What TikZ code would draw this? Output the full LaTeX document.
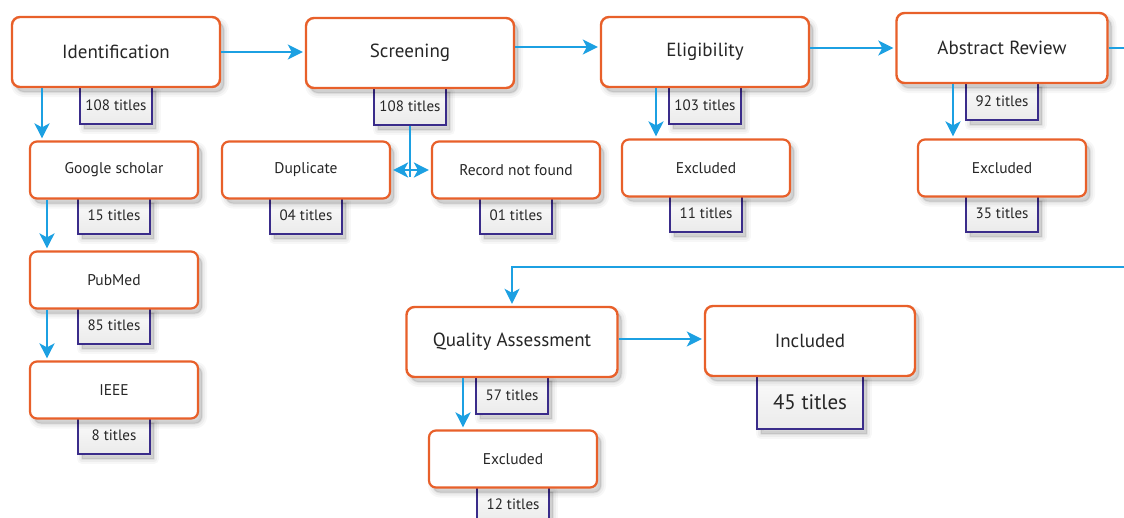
\documentclass[tikz,border=0pt]{standalone}
\usepackage{fontspec}
\setmainfont{PT Sans}
\usetikzlibrary{arrows.meta, positioning, shadows, backgrounds}
\definecolor{boxorange}{RGB}{232,96,42}
\definecolor{flowblue}{RGB}{28,160,226}
\definecolor{tallypurple}{RGB}{58,44,138}

\begin{document}
\begin{tikzpicture}[x=1pt, y=-1pt,
  soft shadow/.style={
    general shadow={shadow xshift=4pt, shadow yshift=-5pt, fill=black, draw=black, line width=10pt, line join=round, opacity=0.03},
    general shadow={shadow xshift=4pt, shadow yshift=-5pt, fill=black, draw=black, line width=6pt, line join=round, opacity=0.04},
    general shadow={shadow xshift=4pt, shadow yshift=-5pt, fill=black, draw=black, line width=2pt, line join=round, opacity=0.06}},
  stage/.style={draw=boxorange, line width=2.4pt, rounded corners=8pt, fill=white, text=black!85,
    minimum width=208pt, minimum height=70pt, font=\fontsize{19}{23}\selectfont, soft shadow},
  sub/.style={stage, rounded corners=7pt, line width=2.2pt, minimum width=168pt, minimum height=57pt,
    font=\fontsize{15.5}{19}\selectfont},
  tally/.style={draw=tallypurple, line width=2pt, top color=gray!3, bottom color=gray!16, text=black!85,
    minimum width=72pt, minimum height=38pt, inner sep=0pt, font=\fontsize{15}{18}\selectfont, soft shadow},
  flowline/.style={draw=flowblue, line width=2.2pt},
  flow/.style={flowline, shorten >=2pt, -{Stealth[length=15pt, width=15pt, inset=4pt]}},
]
\useasboundingbox (0,0) rectangle (1124,517);
\clip (0,0) rectangle (1124,517);

% main stages
\node[stage] (id)  at (116,52) {Identification};
\node[stage] (scr) at (410,53) {Screening};
\node[stage] (eli) at (705,52) {Eligibility};
\node[stage, minimum width=211pt] (abs) at (1002,48) {Abstract Review};
\node[stage, minimum width=211pt] (qa) at (512,342) {Quality Assessment};
\node[stage, minimum width=210pt] (inc) at (810,341) {Included};

% sources and exclusions
\node[sub] (gs)   at (114,170) {Google scholar};
\node[sub] (pm)   at (114,280) {PubMed};
\node[sub] (ieee) at (114,390) {IEEE};
\node[sub] (dup)  at (306,170) {Duplicate};
\node[sub] (rnf)  at (516,170) {Record not found};
\node[sub] (exe)  at (706,168) {Excluded};
\node[sub] (exa)  at (1002,168) {Excluded};
\node[sub] (exq)  at (513,459) {Excluded};

% counts
\begin{scope}[on background layer]
\node[tally, below=-3pt of id]  (nid)  {108 titles};
\node[tally, below=-3pt of scr] (nscr) {108 titles};
\node[tally, below=-3pt of eli] (neli) {103 titles};
\node[tally, below=-3pt of abs] (nabs) {92 titles};
\node[tally, below=-3pt of qa]  (nqa)  {57 titles};
\node[tally, below=-3pt of inc, minimum width=106pt, minimum height=54pt,
  font=\fontsize{21}{25}\selectfont] (ninc) {45 titles};
\node[tally, minimum height=36pt, below=-3pt of gs]   (ngs)   {15 titles};
\node[tally, minimum height=36pt, below=-3pt of pm]   (npm)   {85 titles};
\node[tally, minimum height=36pt, below=-3pt of ieee] (nieee) {8 titles};
\node[tally, minimum height=36pt, below=-3pt of dup]  (ndup)  {04 titles};
\node[tally, minimum height=36pt, below=-3pt of rnf]  (nrnf)  {01 titles};
\node[tally, minimum height=36pt, below=-3pt of exe]  (nexe)  {11 titles};
\node[tally, minimum height=36pt, below=-3pt of exa]  (nexa)  {35 titles};
\node[tally, minimum height=36pt, below=-3pt of exq]  (nexq)  {12 titles};
\end{scope}

% connectors
\coordinate (loop) at (512,267);
\draw[flow] (id.east) -- (id.east -| scr.west);
\draw[flow] ([yshift=6pt]scr.east) -- ([yshift=6pt]scr.east -| eli.west);
\draw[flow] (eli.east |- abs.west) -- (abs.west);
\draw[flow] (abs.east) -- ++(40,0) |- (loop) -- (qa.north);
\draw[flow] ([yshift=3pt]qa.east) -- ([yshift=3pt]qa.east -| inc.west);

\draw[flow] (id.south -| 42,0) -- (gs.north -| 42,0);
\draw[flow] (gs.south -| 47,0) -- (pm.north -| 47,0);
\draw[flow] (pm.south -| 47,0) -- (ieee.north -| 47,0);

\draw[flowline] (nscr.south) -- (nscr.south |- 0,177);
\draw[flow, shorten <=2pt, {Stealth[length=15pt, width=15pt, inset=4pt]}-{Stealth[length=15pt, width=15pt, inset=4pt]}] (dup.east) -- (rnf.west);

\draw[flow] (eli.south -| 656,0) -- (exe.north -| 656,0);
\draw[flow] (abs.south -| 953,0) -- (exa.north -| 953,0);
\draw[flow] (qa.south -| 463,0) -- (exq.north -| 463,0);
\end{tikzpicture}
\end{document}
